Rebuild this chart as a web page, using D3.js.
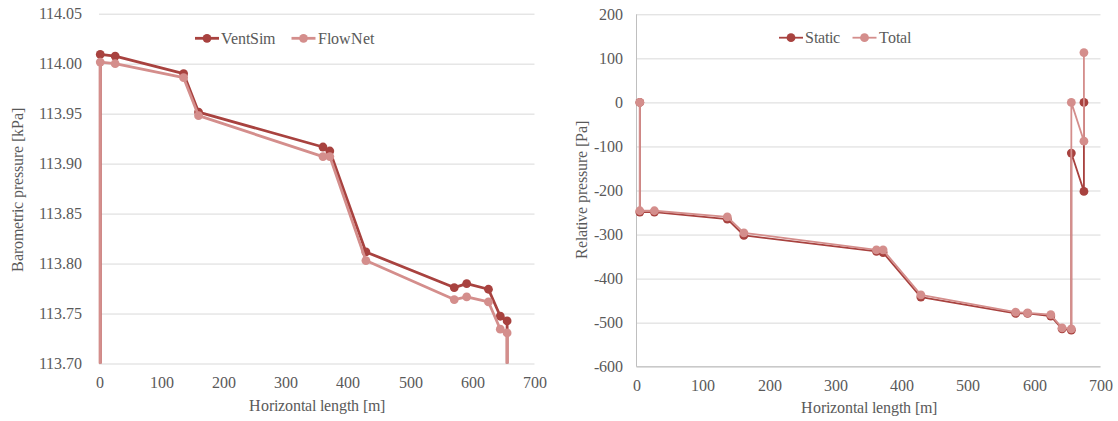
<!DOCTYPE html>
<html>
<head>
<meta charset="utf-8">
<script src="https://cdn.jsdelivr.net/npm/d3@7"></script>
<style>
  @font-face {
    font-family: "RefSerif";
    src: local("Liberation Serif"), local("LiberationSerif"), local("Liberation Serif Regular"),
         local("LiberationSerif-Regular"), local("DejaVu Serif"), local("DejaVuSerif");
  }
  body { margin: 0; background: #fff; }
</style>
</head>
<body>
<div id="chart"></div>
<script>
// left chart: barometric pressure along the route
const lenBaro = [2, 2, 26, 136, 160, 360, 371, 429, 571, 591, 626, 645, 656, 656];
const ventSim = [113.60, 114.0093, 114.0076, 113.990, 113.9516, 113.9166, 113.9126, 113.8116, 113.776, 113.780, 113.7743, 113.7473, 113.7426, 113.60];
const flowNet = [113.60, 114.0016, 114.000, 113.986, 113.948, 113.907, 113.907, 113.803, 113.764, 113.7666, 113.7616, 113.7343, 113.7306, 113.60];
const baroTicks = [113.70, 113.75, 113.80, 113.85, 113.90, 113.95, 114.00, 114.05];

// right chart: relative pressure
const lenRel = [5, 5, 27, 137, 162, 362, 372, 429, 572, 590, 625, 642, 656, 656, 675, 675];
const staticP = [0, -249, -249, -265, -302, -338, -341, -442, -479, -479, -485, -514, -517, -115, -202, 0];
const totalP = [0, -246, -246, -260, -296, -335, -335, -437, -476, -478, -482, -512, -514, 0, -88, 113];
const relTicks = [-600, -500, -400, -300, -200, -100, 0, 100, 200];

const lenTicks = [0, 100, 200, 300, 400, 500, 600, 700];

const darkRed = "#a8423f";
const lightRed = "#d48e8c";
const serif = "RefSerif, 'Liberation Serif', 'Times New Roman', serif";

const svg = d3.select("#chart").append("svg")
    .attr("width", 1118)
    .attr("height", 421)
    .attr("font-family", serif);

function styleText(sel) {
    sel.attr("font-size", 16)
        .attr("font-family", serif)
        .attr("fill", "#595959");
}

function drawChart(c) {
    const x = d3.scaleLinear().domain([0, 700]).range([c.left, c.right]);
    const y = d3.scaleLinear().domain(c.yDomain).range([c.bottom, c.top]);

    // horizontal gridlines + y labels
    const gy = svg.append("g")
        .attr("transform", `translate(${c.left},0)`)
        .call(d3.axisLeft(y)
            .tickValues(c.yTicks)
            .tickFormat(c.fmt)
            .tickSizeInner(-(c.right - c.left))
            .tickSizeOuter(0)
            .tickPadding(c.yPad));
    gy.attr("font-family", serif);
    gy.select(".domain").remove();
    gy.selectAll("line").attr("stroke", "#d9d9d9");
    styleText(gy.selectAll("text"));

    // x labels, no vertical gridlines
    const gx = svg.append("g")
        .attr("transform", `translate(0,${c.bottom})`)
        .call(d3.axisBottom(x).tickValues(lenTicks).tickSize(0).tickPadding(13));
    gx.attr("font-family", serif);
    gx.select(".domain").remove();
    styleText(gx.selectAll("text"));

    if (c.axisLines) {
        svg.append("line")
            .attr("x1", c.left).attr("x2", c.left)
            .attr("y1", c.top).attr("y2", c.bottom)
            .attr("stroke", "#bfbfbf");
        svg.append("line")
            .attr("x1", c.left).attr("x2", c.right)
            .attr("y1", c.bottom).attr("y2", c.bottom)
            .attr("stroke", "#bfbfbf");
    }

    // clip out-of-range values like Excel does
    svg.append("clipPath").attr("id", c.id)
        .append("rect")
        .attr("x", c.left - 6).attr("y", c.top - 6)
        .attr("width", c.right - c.left + 12)
        .attr("height", c.bottom - c.top + 6);

    const plot = svg.append("g").attr("clip-path", `url(#${c.id})`);

    c.series.forEach(s => {
        const pts = c.xs.map((v, i) => [x(v), y(s.values[i])]);
        plot.append("path")
            .attr("d", d3.line()(pts))
            .attr("fill", "none")
            .attr("stroke", s.color)
            .attr("stroke-width", c.lineW)
            .attr("stroke-linejoin", "round");
        plot.selectAll(null)
            .data(pts.filter(p => p[1] <= c.bottom + 0.5))
            .join("circle")
            .attr("cx", d => d[0])
            .attr("cy", d => d[1])
            .attr("r", 4.4)
            .attr("fill", s.color);
    });

    // legend
    c.series.forEach(s => {
        const lg = svg.append("g").attr("transform", `translate(${s.legX},${c.legY})`);
        lg.append("line").attr("x1", 0).attr("x2", 24).attr("y1", 0).attr("y2", 0)
            .attr("stroke", s.color).attr("stroke-width", c.lineW);
        lg.append("circle").attr("cx", 12).attr("cy", 0).attr("r", 4.4).attr("fill", s.color);
        styleText(lg.append("text").attr("x", 26).attr("y", 0).attr("dy", "0.33em").text(s.name));
    });

    // axis titles
    styleText(svg.append("text")
        .attr("text-anchor", "middle")
        .attr("x", (c.left + c.right) / 2)
        .attr("y", c.xTitleY)
        .text("Horizontal length [m]"));
    styleText(svg.append("text")
        .attr("text-anchor", "middle")
        .attr("transform", `translate(${c.yTitleX},190) rotate(-90)`)
        .text(c.yTitle));
}

drawChart({
    id: "clipBaro",
    left: 99, right: 534.5, top: 13.7, bottom: 363.5,
    yDomain: [113.70, 114.05], yTicks: baroTicks, fmt: d3.format(".2f"), yPad: 17,
    xs: lenBaro, lineW: 2.8, axisLines: false,
    legY: 38.3, xTitleY: 411, yTitleX: 23,
    yTitle: "Barometric pressure [kPa]",
    series: [
        {name: "VentSim", values: ventSim, color: darkRed, legX: 195},
        {name: "FlowNet", values: flowNet, color: lightRed, legX: 291.5}
    ]
});

drawChart({
    id: "clipRel",
    left: 636.5, right: 1100.5, top: 14.3, bottom: 366.7,
    yDomain: [-600, 200], yTicks: relTicks, fmt: d => String(d), yPad: 14,
    xs: lenRel, lineW: 1.8, axisLines: true,
    legY: 37.7, xTitleY: 413, yTitleX: 587,
    yTitle: "Relative pressure [Pa]",
    series: [
        {name: "Static", values: staticP, color: darkRed, legX: 779},
        {name: "Total", values: totalP, color: lightRed, legX: 852.5}
    ]
});
</script>
</body>
</html>
